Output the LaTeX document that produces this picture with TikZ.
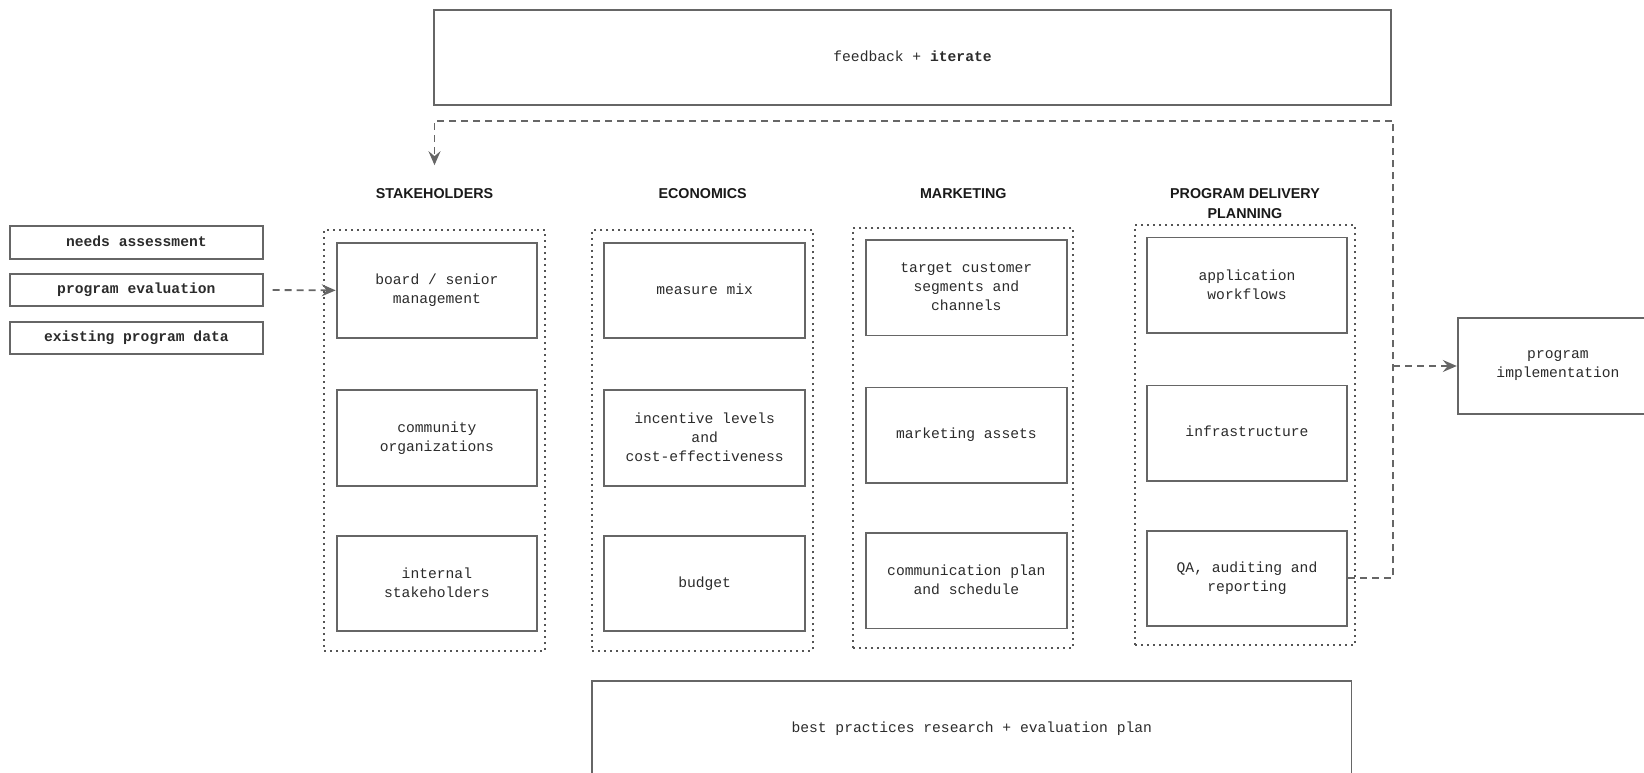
\documentclass[tikz,border=0pt]{standalone}
\usepackage{fontspec}
\setmainfont{Liberation Sans}
\setsansfont{Liberation Sans}
\setmonofont{Liberation Mono}
\usetikzlibrary{arrows.meta}

\definecolor{edge}{HTML}{666666}
\definecolor{dots}{HTML}{555555}
\definecolor{ink}{HTML}{2B2B2B}

% struts that fix the vertical extent of box labels
\newcommand\lblTop{\rule{0pt}{13.2pt}}
\newcommand\lblBot{\rule[-5.7pt]{0pt}{5.7pt}}
\newcommand\mlTop{\rule{0pt}{17pt}}
\newcommand\mlBot{\rule[-1.9pt]{0pt}{1.9pt}}

\begin{document}
\begin{tikzpicture}[x=1pt,y=-1pt,
  boxbase/.style={font=\ttfamily\fontsize{14.65}{18.9}\selectfont, text=ink,
    align=center, draw=edge, line width=1.8pt, inner sep=0pt,
    minimum width=200.6pt, minimum height=95.4pt},
  card/.style={boxbase, execute at begin node=\lblTop, execute at end node=\lblBot},
  mcard/.style={boxbase, execute at begin node=\mlTop, execute at end node=\mlBot},
  srcbox/.style={card, minimum width=252.7pt, minimum height=32.5pt,
    font=\ttfamily\bfseries\fontsize{14.65}{18.9}\selectfont},
  wide/.style={card, minimum height=94.8pt},
  group/.style={draw=dots, line width=2pt, dash pattern=on 2pt off 4pt,
    inner sep=0pt},
  heading/.style={font=\sffamily\bfseries\fontsize{14.3}{20}\selectfont,
    text=black!90, align=center, inner sep=0pt, minimum height=56pt},
  flow/.style={draw=edge, line width=1.8pt, dash pattern=on 7pt off 5pt,
    -{Stealth[length=14pt,width=12pt,inset=5pt]}}
]
\useasboundingbox (0,0) rectangle (1644,773);
\clip (0,0) rectangle (1644,773);

% top and bottom banners
\node[wide, minimum width=957pt] (feedback) at (912.5,57.8)
  {feedback + \textbf{iterate}};
\node[wide, minimum width=759.5pt, minimum height=95.3pt] (research) at (971.75,728.35)
  {best practices research + evaluation plan};

% input sources
\node[srcbox] (needs)    at (136.35,242.35) {needs assessment};
\node[srcbox] (progeval) at (136.35,290)    {program evaluation};
\node[srcbox] (existing) at (136.35,337.85) {existing program data};

% group frames
\node[group, minimum width=221pt,   minimum height=420.7pt] (gStake) at (434.5,440.35) {};
\node[group, minimum width=220.7pt, minimum height=420.7pt] (gEcon)  at (702.65,440.35) {};
\node[group, minimum width=220pt,   minimum height=420pt]   (gMark)  at (963.3,438) {};
\node[group, minimum width=220pt,   minimum height=420pt]   (gProg)  at (1245,435) {};

% group headings
\node[heading] (tStake) at (434.5,193.4) {STAKEHOLDERS};
\node[heading] (tEcon)  at (702.65,193.4) {ECONOMICS};
\node[heading] (tMark)  at (963.3,193.3) {MARKETING};
\node[heading] (tProg)  at (1245,203.3) {PROGRAM DELIVERY\\PLANNING};

% stakeholders
\node[mcard] (board)     at (436.9,290.35) {board / senior\\management};
\node[mcard] (community) at (436.9,438)    {community\\organizations};
\node[mcard] (internal)  at (436.9,583.35) {internal\\stakeholders};

% economics
\node[card]  (mix)       at (704.65,290.35) {measure mix};
\node[mcard] (incentive) at (704.65,438)    {incentive levels\\and\\cost-effectiveness};
\node[card]  (budget)    at (704.65,583.35) {budget};

% marketing
\node[mcard] (segments)  at (966.35,287.75) {target customer\\segments and\\channels};
\node[card]  (assets)    at (966.35,435.2)  {marketing assets};
\node[mcard] (commplan)  at (966.35,580.8)  {communication plan\\and schedule};

% program delivery planning
\node[mcard] (workflows) at (1247,285.2)  {application\\workflows};
\node[card]  (infra)     at (1247,433.2)  {infrastructure};
\node[mcard] (qa)        at (1247,578.35) {QA, auditing and\\reporting};

% implementation
\node[mcard] (impl) at (1558,366) {program\\implementation};

% connectors
\coordinate (loopR) at (1393.3,120.7);
\coordinate (loopL) at (tStake.north |- loopR);
\coordinate (split) at (impl.west -| loopR);

\draw[flow, shorten <=9pt] (progeval.east) -- (board.west);
\draw[flow] (qa.east) -| (loopR) -- (loopL) -- (tStake.north);
\draw[flow] (split) -- (impl.west);
\end{tikzpicture}
\end{document}
